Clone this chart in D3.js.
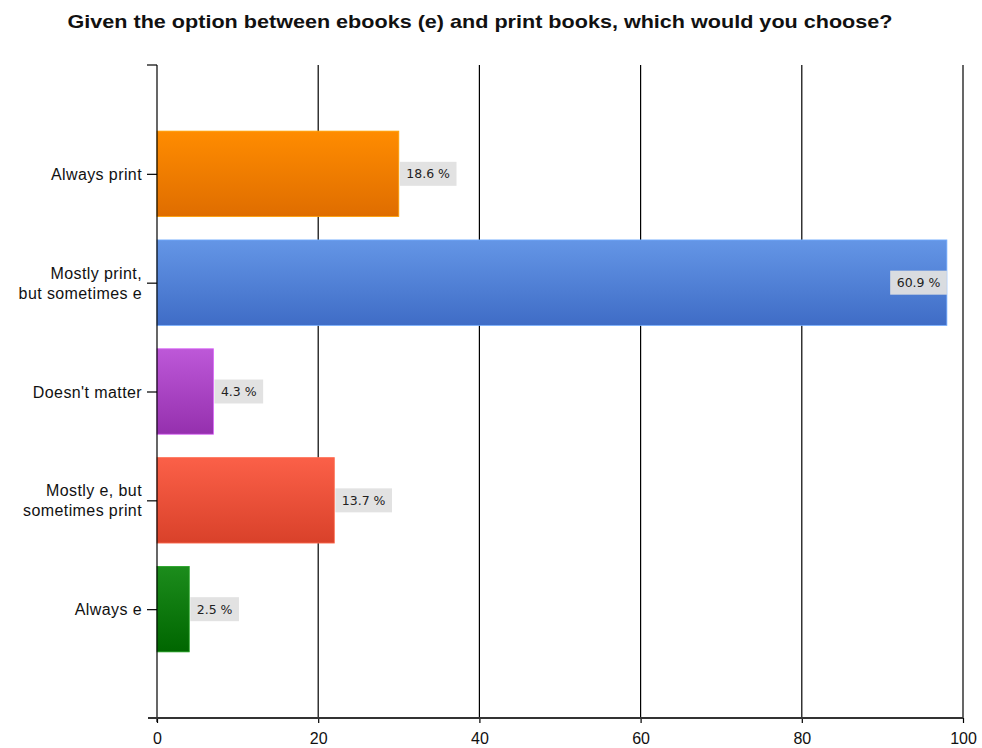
<!DOCTYPE html>
<html>
<head>
<meta charset="utf-8">
<script src="https://cdn.jsdelivr.net/npm/d3@7"></script>
<style>
  html, body { margin: 0; padding: 0; background: #fff; }
  svg { display: block; }
</style>
</head>
<body>
<svg id="chart" width="982" height="748"></svg>
<script>
// Survey responses (counts); percentages are derived from them
const categories = [
  ["Always print"],
  ["Mostly print,", "but sometimes e"],
  ["Doesn't matter"],
  ["Mostly e, but", "sometimes print"],
  ["Always e"]
];
const counts = [30, 98, 7, 22, 4];
const xTicks = [0, 20, 40, 60, 80, 100];
const barColors = [
  ["#ff8c00", "#df6d00"],
  ["#6496e6", "#3f6cc6"],
  ["#bd58d8", "#9530ae"],
  ["#fb6048", "#d9412a"],
  ["#1c8c1c", "#006600"]
];
const title = "Given the option between ebooks (e) and print books, which would you choose?";

const total = d3.sum(counts);
const pct = counts.map(c => c / total * 100);

const svg = d3.select("#chart");
const margin = { left: 157, right: 19, top: 65, bottom: 30 };
const W = 982, H = 748;
const plotBottom = H - margin.bottom;
const sans = "Liberation Sans, Arial, sans-serif";

const x = d3.scaleLinear().domain([0, 100]).range([margin.left, W - margin.right]);
const keys = categories.map((c, i) => i);
const y = d3.scalePoint().domain(keys).range([margin.top, plotBottom]).padding(1);
const barH = y.step() * 0.785;

// Gradients for bars
const defs = svg.append("defs");
barColors.forEach((c, i) => {
  const g = defs.append("linearGradient")
    .attr("id", "grad" + i).attr("x1", 0).attr("y1", 0).attr("x2", 0).attr("y2", 1);
  g.append("stop").attr("offset", "0%").attr("stop-color", c[0]);
  g.append("stop").attr("offset", "100%").attr("stop-color", c[1]);
});

// Title
svg.append("text")
  .attr("x", 480).attr("y", 28)
  .attr("text-anchor", "middle")
  .attr("font-family", sans)
  .attr("font-weight", "bold")
  .attr("font-size", 19)
  .attr("fill", "#111")
  .attr("textLength", 825)
  .attr("lengthAdjust", "spacingAndGlyphs")
  .text(title);

// Vertical gridlines
svg.append("g")
  .selectAll("line")
  .data(xTicks.filter(t => t > 0))
  .join("line")
  .attr("x1", d => x(d)).attr("x2", d => x(d))
  .attr("y1", margin.top).attr("y2", plotBottom)
  .attr("stroke", "#000").attr("stroke-width", 1.2);

// Bars
svg.append("g")
  .selectAll("rect")
  .data(counts)
  .join("rect")
  .attr("x", x(0))
  .attr("y", (d, i) => y(i) - barH / 2)
  .attr("width", d => x(d) - x(0))
  .attr("height", barH)
  .attr("fill", (d, i) => `url(#grad${i})`)
  .attr("stroke", (d, i) => d3.color(barColors[i][0]).brighter(0.4))
  .attr("stroke-width", 0.8);

// Value labels on a grey box
const labelG = svg.append("g")
  .attr("font-family", "DejaVu Sans, sans-serif")
  .attr("font-size", 12.5);
counts.forEach((c, i) => {
  const txt = pct[i].toFixed(1) + " %";
  const g = labelG.append("g");
  const box = g.append("rect");
  const t = g.append("text")
    .attr("y", y(i) + 4.5)
    .attr("fill", "#222")
    .text(txt);
  const boxW = t.node().getComputedTextLength() + 13, boxH = 24;
  const xEnd = x(c);
  const inside = xEnd + boxW > W - margin.right;
  const bx = inside ? xEnd - boxW : xEnd + 1;
  box.attr("x", bx).attr("y", y(i) - boxH / 2).attr("width", boxW).attr("height", boxH)
    .attr("fill", "#e0e0e0").attr("fill-opacity", 0.95);
  t.attr("x", bx + 6.5);
});

// Y axis
const yAxis = d3.axisLeft(y).tickSize(10).tickFormat(() => "");
const yg = svg.append("g").attr("transform", `translate(${x(0)},0)`).call(yAxis);
yg.select(".domain").remove();
yg.selectAll(".tick line").attr("stroke", "#000").attr("stroke-width", 1.2);
svg.append("line")
  .attr("x1", x(0)).attr("x2", x(0))
  .attr("y1", margin.top).attr("y2", plotBottom + 4)
  .attr("stroke", "#000").attr("stroke-width", 1.2);
svg.append("line")
  .attr("x1", x(0) - 10).attr("x2", x(0))
  .attr("y1", margin.top).attr("y2", margin.top)
  .attr("stroke", "#000").attr("stroke-width", 1.2);

// Category labels
const catG = svg.append("g")
  .attr("font-family", sans)
  .attr("font-size", 16)
  .attr("letter-spacing", 0.4)
  .attr("fill", "#111")
  .attr("text-anchor", "end");
categories.forEach((lines, i) => {
  const t = catG.append("text");
  const lh = 20;
  const y0 = y(i) + 6 - (lines.length - 1) * lh / 2;
  lines.forEach((ln, j) => {
    t.append("tspan").attr("x", x(0) - 15).attr("y", y0 + j * lh).text(ln);
  });
});

// X axis
const xAxis = d3.axisBottom(x).tickValues(xTicks).tickSize(5).tickSizeOuter(0);
const xg = svg.append("g").attr("transform", `translate(0,${plotBottom})`).call(xAxis);
xg.select(".domain").remove();
xg.selectAll(".tick line").attr("stroke", "#000").attr("stroke-width", 1.2);
xg.selectAll(".tick text")
  .attr("font-family", sans)
  .attr("font-size", 16)
  .attr("fill", "#111")
  .attr("y", 26)
  .attr("dy", 0);
svg.append("line")
  .attr("x1", x(0) - 9).attr("x2", x(100))
  .attr("y1", plotBottom).attr("y2", plotBottom)
  .attr("stroke", "#333").attr("stroke-width", 2);
</script>
</body>
</html>
